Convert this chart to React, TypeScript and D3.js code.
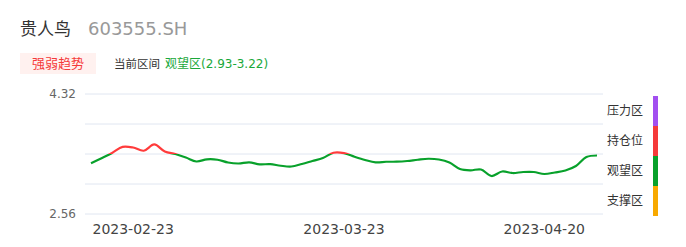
import React from "react";
import * as d3 from "d3";

const dates = [
  "2023-02-17","2023-02-20","2023-02-21","2023-02-22","2023-02-23","2023-02-24","2023-02-27","2023-02-28",
  "2023-03-01","2023-03-02","2023-03-03","2023-03-06","2023-03-07","2023-03-08","2023-03-09","2023-03-10",
  "2023-03-13","2023-03-14","2023-03-15","2023-03-16","2023-03-17","2023-03-20","2023-03-21","2023-03-22",
  "2023-03-23","2023-03-24","2023-03-27","2023-03-28","2023-03-29","2023-03-30","2023-03-31","2023-04-03",
  "2023-04-04","2023-04-06","2023-04-07","2023-04-10","2023-04-11","2023-04-12","2023-04-13","2023-04-14",
  "2023-04-17","2023-04-18","2023-04-19","2023-04-20","2023-04-21","2023-04-24","2023-04-25","2023-04-26",
  "2023-04-27",
];
const values = [
  3.304, 3.378, 3.455, 3.545, 3.535, 3.488, 3.58, 3.477,
  3.44, 3.389, 3.33, 3.362, 3.356, 3.315, 3.301, 3.318,
  3.289, 3.291, 3.268, 3.257, 3.293, 3.337, 3.381, 3.458,
  3.452, 3.399, 3.352, 3.318, 3.326, 3.327, 3.337, 3.356,
  3.37, 3.359, 3.315, 3.22, 3.201, 3.213, 3.117, 3.183,
  3.161, 3.176, 3.176, 3.147, 3.169, 3.198, 3.264, 3.396,
  3.418,
];
const tickDates = ["2023-02-23", "2023-03-23", "2023-04-20"];
const yTicks = [4.32, 3.88, 3.44, 3.0, 2.56];
const yLabels = [4.32, 2.56];
const holdThreshold = 3.445;
const zoneNames = ["压力区", "持仓位", "观望区", "支撑区"];
const zoneColors = ["#a24ff0", "#f53a3a", "#08a12b", "#f8a900"];

const FONT = "'DejaVu Sans', 'Noto Sans CJK SC', sans-serif";

export default function App() {
  const x = d3.scalePoint<string>().domain(dates).range([91, 597]);
  const y = d3.scaleLinear().domain([2.56, 4.32]).range([214, 94]);
  const line = d3
    .line<number>()
    .x((_, i) => x(dates[i]) as number)
    .y((d) => y(d))
    .curve(d3.curveCatmullRom.alpha(0.5));
  const ty = y(holdThreshold);
  const zoneScale = d3.scaleBand<string>().domain(zoneNames).range([96, 216]);

  return (
    <div style={{ position: "fixed", left: 0, top: 0 }}>
      <svg width={686} height={247} style={{ display: "block", fontFamily: FONT }}>
        <rect width={686} height={247} fill="#fff" />
        <text x={20} y={35} fontSize={17} fill="#333">贵人鸟</text>
        <text x={88} y={35} fontSize={18} fill="#999">603555.SH</text>
        <rect x={20} y={53} width={76} height={21} fill="#fff1ef" />
        <text x={58} y={68} fontSize={13} fill="#f53a3a" textAnchor="middle">强弱趋势</text>
        <text x={114} y={68} fontSize={11.5} fill="#333">当前区间</text>
        <text x={165} y={68} fontSize={12} fill="#1aa83a">观望区(2.93-3.22)</text>

        {yTicks.map((t) => (
          <line key={t} x1={85} x2={603} y1={y(t)} y2={y(t)} stroke="#e0e6f1" strokeWidth={1} />
        ))}
        {yLabels.map((t) => (
          <text key={t} x={76} y={y(t)} dy="0.35em" textAnchor="end" fontSize={12} fill="#666">
            {t.toFixed(2)}
          </text>
        ))}
        {tickDates.map((d) => (
          <text key={d} x={x(d) as number} y={234} textAnchor="middle" fontSize={14} fill="#444">
            {d}
          </text>
        ))}

        <defs>
          <linearGradient id="lg" gradientUnits="userSpaceOnUse" x1={0} x2={0} y1={94} y2={214}>
            <stop offset={(ty - 94) / 120} stopColor="#ff3b3b" />
            <stop offset={(ty - 94) / 120} stopColor="#08a12b" />
          </linearGradient>
        </defs>
        <path d={line(values) || ""} fill="none" stroke="url(#lg)" strokeWidth={2.2} strokeLinejoin="round" />

        {zoneNames.map((n, i) => (
          <g key={n}>
            <rect x={653} y={zoneScale(n) as number} width={5} height={zoneScale.bandwidth()} fill={zoneColors[i]} />
            <text x={607} y={(zoneScale(n) as number) + zoneScale.bandwidth() / 2} dy="0.35em" fontSize={12} fill="#333">
              {n}
            </text>
          </g>
        ))}
      </svg>
    </div>
  );
}
